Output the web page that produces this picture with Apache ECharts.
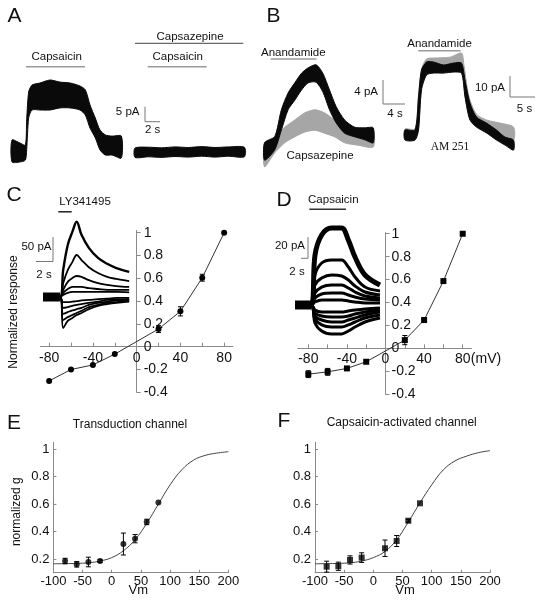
<!DOCTYPE html>
<html><head><meta charset="utf-8">
<script src="https://cdn.jsdelivr.net/npm/echarts@6/dist/echarts.min.js"></script>
<style>html,body{margin:0;padding:0;background:#fff}#c{width:542px;height:600px}</style>
</head><body><div id="c"></div><script>
const FONT = "'Liberation Sans', Arial, Helvetica, sans-serif";
const SERIF = "'Liberation Serif', 'Times New Roman', serif";

// ---------- Panel A: current traces (time s, current pA re baseline; upper/lower noise envelope) ----------
const aLeftT  = [0, 1.2, 2.0, 2.2, 2.5, 3.0, 4.2, 5.7, 7.2, 8.7, 10.2, 11.0, 11.7, 12.5, 13.2, 14.0, 15.0, 16.4];
const aLeftUp = [4, 3, 2.3, 10.7, 20, 22.3, 23, 24, 23.3, 23, 22, 20.7, 15.7, 11.3, 7.3, 5.7, 5.3, 5.3];
const aLeftLo = [-3.3, -3.3, -2.7, 0.7, 11.3, 14, 14, 14, 14.7, 14.7, 14, 12.3, 8, 4.7, 0.7, -1, -1, -2];
const aRightT  = [0, 2, 4, 6, 8, 10, 12, 14, 16.4];
const aRightUp = [1.3, 1.6, 1.4, 1.7, 1.5, 1.8, 1.5, 1.7, 1.6];
const aRightLo = [-1.8, -1.6, -1.8, -1.5, -1.7, -1.4, -1.7, -1.4, -1.6];

// ---------- Panel B ----------
const bLeftBlackT  = [0.1, 1.9, 3.1, 4.3, 5.5, 6.7, 7.9, 9.3, 10.5, 11.7, 12.9, 14.4, 16.2, 18.0, 19.5];
const bLeftBlackUp = [1.2, 2.2, 6.7, 9.5, 11.2, 12.8, 13.7, 14.2, 12.8, 10.0, 7.2, 5.0, 3.8, 3.7, 3.7];
const bLeftBlackLo = [-1.7, 0, 3.3, 6.7, 8.3, 10.0, 11.2, 11.3, 9.7, 6.7, 4.5, 2.8, 2.2, 1.7, 1.2];
const bLeftGrayT  = [0.1, 1.9, 3.7, 5.5, 7.3, 9.1, 10.8, 12.6, 14.4, 16.8, 19.5];
const bLeftGrayUp = [1.2, 2.2, 3.8, 5.0, 6.2, 6.7, 6.2, 5.0, 3.8, 3.0, 2.8];
const bLeftGrayLo = [-2.8, -0.5, 1.2, 2.2, 3.0, 3.3, 2.8, 2.2, 1.2, 0.8, 0.5];
const bRightBlackT  = [0.2, 2.2, 2.9, 3.5, 4.5, 5.9, 7.9, 9.9, 11.5, 12.2, 13.2, 14.5, 16.5, 18.5, 20.2, 21.9];
const bRightBlackUp = [2.9, 2.9, 22, 37.6, 42.2, 42.2, 40.5, 41.6, 41.6, 31.8, 18.5, 10.4, 6.9, 2.9, -1.2, -2.9];
const bRightBlackLo = [-2.9, -2.9, 2.9, 26, 34.7, 35.8, 35.8, 36.4, 35.8, 22, 8.7, 4.6, 1.2, -2.9, -5.8, -8.7];
const bRightGrayT  = [0.2, 2.2, 2.9, 3.5, 4.5, 5.9, 9.2, 11.5, 12.0, 13.0, 14.5, 16.5, 19.2, 21.9];
const bRightGrayUp = [3.5, 3.5, 23, 38, 44, 44.5, 45, 47.4, 40, 22, 12, 8.7, 6.9, 4.6];
const bRightGrayLo = [-2.3, -2.3, 4, 27, 35, 37.6, 38.7, 40.5, 28, 10, 5, 2.9, -1.2, -2.9];

// ---------- Panel C inset: LY341495 family of traces (s, pA) ----------
const cTraceT = [0, 1.85, 2.2, 2.7, 3.2, 3.67, 4.2, 5, 6, 7, 8, 9.4];
const cTr1  = [0, 0, 64, 124, 155, 179, 148, 117, 93, 79, 69, 60];
const cTr2  = [0, 0, 33, 64, 83, 100, 88, 71, 57, 48, 43, 38];
const cTr3  = [0, 0, 17, 36, 45, 50, 48, 40, 33, 29, 26, 24];
const cTr4  = [0, 0, 10, 19, 24, 24, 24, 21, 19, 17, 17, 17];
const cTr5  = [0, 0, 5, 10, 12, 12, 12, 12, 12, 12, 12, 11];
const cTr6  = [0, 0, -12, -12, -11, -10, -8, -7, -5, -4, -2, -2];
const cTr7  = [0, 0, -26, -24, -21, -19, -17, -14, -11, -7, -6, -5];
const cTr8  = [0, 0, -40, -36, -32, -29, -26, -19, -14, -11, -8, -7];
const cTr9  = [0, 0, -55, -48, -43, -38, -33, -24, -19, -14, -12, -10];
const cTr10 = [0, 0, -74, -57, -50, -43, -38, -29, -21, -17, -14, -11];
const cBaseT = [0, 1.85];
const cBase  = [0, 0];

// ---------- Panel D inset: capsaicin family of traces (s, pA) ----------
const dTraceT = [0, 4.8, 6, 8, 11, 14, 16, 18, 21, 25.5];
const dTr1  = [0, 0, 47.6, 66.7, 73.3, 73.3, 61.9, 45.7, 28.6, 19];
const dTr2  = [0, 0, 28.6, 40, 42.9, 42.9, 36.2, 26.7, 17.1, 13.3];
const dTr3  = [0, 0, 19, 25.7, 28.6, 27.6, 23.8, 18.1, 12.4, 9.5];
const dTr4  = [0, 0, 11.4, 17.1, 19, 19, 16.2, 12.4, 8.6, 6.7];
const dTr5  = [0, 0, 6.7, 10.5, 11.4, 11.4, 9.5, 7.6, 5.7, 4.8];
const dTr6  = [0, 0, 2.9, 4.8, 4.8, 4.8, 3.8, 2.9, 1.9, 1.9];
const dTr7  = [0, 0, -4.8, -6.7, -6.7, -6.7, -5.7, -4.8, -3.8, -2.9];
const dTr8  = [0, 0, -7.6, -10.5, -11.4, -11.4, -10.5, -8.6, -6.7, -4.8];
const dTr9  = [0, 0, -10.5, -14.3, -16.2, -16.2, -14.3, -12.4, -9.5, -6.7];
const dTr10 = [0, 0, -13.3, -19, -21, -21, -19, -16.2, -12.4, -9.5];
const dTr11 = [0, 0, -17.1, -24.8, -27.6, -27.6, -24.8, -21, -16.2, -12.4];
const dBaseT = [0, 4.8];
const dBase  = [0, 0];

// ---------- Panels C & D: I-V relations ----------
const ivV   = [-80, -60, -40, -20, 20, 40, 60, 80];
const cResp = [-0.30, -0.20, -0.16, -0.065, 0.155, 0.31, 0.605, 1.0];
const cErr  = [0, 0, 0, 0, 0.03, 0.04, 0.03, 0];
const dResp = [-0.225, -0.205, -0.175, -0.117, 0.072, 0.247, 0.587, 1.0];
const dErr  = [0.03, 0.03, 0, 0, 0.04, 0.02, 0, 0];
const ivXTicks  = [-80, -60, -40, -20, 0, 20, 40, 60, 80];
const ivXLabels = [-80, -40, 0, 40, 80];
const ivYTicks  = [-0.4, -0.2, 0, 0.2, 0.4, 0.6, 0.8, 1];

// ---------- Panels E & F: normalized conductance ----------
const gV   = [-80, -60, -40, -20, 20, 40, 60, 80];
const eG   = [0.185, 0.161, 0.178, 0.185, 0.309, 0.348, 0.470, 0.611];
const eErr = [0.02, 0.02, 0.035, 0.01, 0.08, 0.03, 0.02, 0];
const fG   = [0.144, 0.147, 0.193, 0.21, 0.278, 0.331, 0.479, 0.606];
const fErr = [0.04, 0.03, 0.03, 0.035, 0.06, 0.04, 0.01, 0];
const fitV = [-100, -80, -60, -40, -20, 0, 20, 40, 60, 80, 100, 120, 140, 160, 180, 200];
const eFit = [0.165, 0.166, 0.168, 0.172, 0.185, 0.21, 0.26, 0.34, 0.46, 0.60, 0.74, 0.85, 0.92, 0.955, 0.972, 0.982];
const fFit = [0.165, 0.166, 0.168, 0.172, 0.185, 0.21, 0.255, 0.34, 0.47, 0.61, 0.74, 0.85, 0.915, 0.95, 0.975, 0.99];
const gYTicks = [0.2, 0.4, 0.6, 0.8, 1];

// ---------- helpers ----------
const pairs = (xs, ys) => xs.map((x, i) => [x, ys[i]]);
function band(gi, t, lo, up, color, z) {
  return {
    type: 'custom', xAxisIndex: gi, yAxisIndex: gi, z: z || 2, silent: true,
    data: [[t[0], lo[0]]],
    renderItem: (p, api) => {
      const pts = [];
      for (let i = 0; i < t.length; i++) pts.push(api.coord([t[i], up[i]]));
      for (let i = t.length - 1; i >= 0; i--) pts.push(api.coord([t[i], lo[i]]));
      return { type: 'polygon', shape: { points: pts, smooth: 0.25 }, style: { fill: color, stroke: color, lineWidth: 1 } };
    }
  };
}
function trace(gi, t, v, w) {
  return { type: 'line', xAxisIndex: gi, yAxisIndex: gi, data: pairs(t, v), smooth: 0.35, symbol: 'none',
    lineStyle: { color: '#000', width: w }, silent: true, z: 3 };
}
function errBars(gi, xs, ys, es, cap) {
  const d = [];
  xs.forEach((x, i) => { if (es[i] > 0) d.push([x, ys[i] - es[i], ys[i] + es[i]]); });
  return {
    type: 'custom', xAxisIndex: gi, yAxisIndex: gi, z: 4, silent: true, data: d,
    renderItem: (p, api) => {
      const lo = api.coord([api.value(0), api.value(1)]);
      const hi = api.coord([api.value(0), api.value(2)]);
      const s = { stroke: '#000', lineWidth: 1 };
      return { type: 'group', children: [
        { type: 'line', shape: { x1: lo[0], y1: lo[1], x2: hi[0], y2: hi[1] }, style: s },
        { type: 'line', shape: { x1: lo[0] - cap, y1: lo[1], x2: lo[0] + cap, y2: lo[1] }, style: s },
        { type: 'line', shape: { x1: hi[0] - cap, y1: hi[1], x2: hi[0] + cap, y2: hi[1] }, style: s }
      ]};
    }
  };
}
const fmt = v => String(+(+v).toFixed(1));
const AX = '#8a8a8a';
function hiddenAxes(gi, xmin, xmax, ymin, ymax) {
  return [
    { gridIndex: gi, type: 'value', min: xmin, max: xmax, show: false },
    { gridIndex: gi, type: 'value', min: ymin, max: ymax, show: false }
  ];
}
function txt(x, y, s, o) {
  o = o || {};
  const f = `${o.size || 11.5}px ${o.family || FONT}`;
  return { type: 'text', x: x, y: y, rotation: o.rot || 0, silent: true, z: 10,
    style: { text: s, font: f, fill: o.color || '#111', align: o.align || 'center', verticalAlign: 'middle',
             textAlign: o.align || 'center', textVerticalAlign: 'middle' } };
}
function pl(points, color, w) {
  return { type: 'polyline', silent: true, z: 10, shape: { points: points }, style: { stroke: color, lineWidth: w || 1, fill: null } };
}

// ---------- grids ----------
const G = (left, top, width, height) => ({ left, top, width, height, containLabel: false, outerBoundsMode: 'none' });
const grids = [
  G(12, 68, 110, 102),        // 0 A left
  G(135, 68, 110, 102),       // 1 A right
  G(264, 54, 112, 117),       // 2 B left
  G(404, 52, 112, 103.8),     // 3 B right
  G(43, 215.1, 87.1, 119.7),  // 4 C inset
  G(295, 212.6, 85, 129.15),  // 5 D inset
  G(40.4, 230.4, 192.5, 161.9), // 6 C main
  G(297.7, 232.6, 173.7, 161.6), // 7 D main
  G(53.4, 442.4, 175, 130.3), // 8 E
  G(315, 442.4, 175, 130.3)   // 9 F
];

const xAxes = [], yAxes = [];
[[0, 0, 16.5, -6, 28], [1, 0, 16.5, -6, 28], [2, 0, 20, -3.5, 16], [3, 0, 22.4, -12, 48],
 [4, 0, 9.5, -90, 195], [5, 0, 25.5, -35, 88]].forEach(a => {
  const h = hiddenAxes(a[0], a[1], a[2], a[3], a[4]); xAxes.push(h[0]); yAxes.push(h[1]);
});
// crossing axes at the origin: place each axis through the zero of the other with an offset
function ivAxes(gi, xmin, xmax, ymin, ymax, lblMargin) {
  const g = grids[gi];
  const xOff = -((0 - ymin) / (ymax - ymin)) * g.height;
  const yOff = -((0 - xmin) / (xmax - xmin)) * g.width;
  xAxes.push({ gridIndex: gi, type: 'value', min: xmin, max: xmax, position: 'bottom', offset: xOff,
    axisLine: { onZero: false, lineStyle: { color: AX, width: 1 } },
    axisTick: { inside: true, length: 4, customValues: ivXTicks, lineStyle: { color: AX } },
    axisLabel: { customValues: ivXLabels, fontSize: 14, color: '#111', fontFamily: FONT, margin: 4, hideOverlap: false },
    splitLine: { show: false } });
  yAxes.push({ gridIndex: gi, type: 'value', min: ymin, max: ymax, position: 'left', offset: yOff,
    axisLine: { onZero: false, lineStyle: { color: AX, width: 1 } },
    axisTick: { inside: true, length: 4, customValues: ivYTicks, lineStyle: { color: AX } },
    axisLabel: { inside: true, customValues: ivYTicks, formatter: fmt, fontSize: 14, color: '#111', fontFamily: FONT, margin: lblMargin, hideOverlap: false },
    splitLine: { show: false } });
}
ivAxes(6, -88, 88, -0.4, 1.02, 7);
ivAxes(7, -91, 89, -0.4, 1.01, 6);
function gAxes(gi) {
  xAxes.push({ gridIndex: gi, type: 'value', min: -100, max: 200, interval: 50,
    axisLine: { onZero: false, lineStyle: { color: AX } },
    axisTick: { inside: true, length: 3, lineStyle: { color: AX } },
    axisLabel: { fontSize: 13, color: '#111', fontFamily: FONT, margin: 2 },
    splitLine: { show: false } });
  yAxes.push({ gridIndex: gi, type: 'value', min: 0.1, max: 1.05,
    axisLine: { onZero: false, lineStyle: { color: AX } },
    axisTick: { inside: true, length: 3, customValues: gYTicks, lineStyle: { color: AX } },
    axisLabel: { customValues: gYTicks, formatter: fmt, fontSize: 13, color: '#111', fontFamily: FONT, margin: 4 },
    splitLine: { show: false } });
}
gAxes(8); gAxes(9);

// ---------- series ----------
const series = [
  band(0, aLeftT, aLeftLo, aLeftUp, '#0a0a0a'),
  band(1, aRightT, aRightLo, aRightUp, '#0a0a0a'),
  band(2, bLeftGrayT, bLeftGrayLo, bLeftGrayUp, '#a6a6a6', 2),
  band(2, bLeftBlackT, bLeftBlackLo, bLeftBlackUp, '#0a0a0a', 3),
  band(3, bRightGrayT, bRightGrayLo, bRightGrayUp, '#a6a6a6', 2),
  band(3, bRightBlackT, bRightBlackLo, bRightBlackUp, '#0a0a0a', 3),
  { type: 'line', xAxisIndex: 4, yAxisIndex: 4, data: pairs(cBaseT, cBase), symbol: 'none', lineStyle: { color: '#000', width: 9 }, silent: true },
  { type: 'line', xAxisIndex: 5, yAxisIndex: 5, data: pairs(dBaseT, dBase), symbol: 'none', lineStyle: { color: '#000', width: 9 }, silent: true }
];
[cTr1, cTr2, cTr3, cTr4, cTr5, cTr6, cTr7, cTr8, cTr9, cTr10].forEach((v, i) => series.push(trace(4, cTraceT, v, i === 0 ? 2.4 : 1.8)));
[dTr1, dTr2, dTr3, dTr4, dTr5, dTr6, dTr7, dTr8, dTr9, dTr10, dTr11].forEach((v, i) => series.push(trace(5, dTraceT, v, i === 0 ? 5 : 3)));

series.push({ type: 'line', xAxisIndex: 6, yAxisIndex: 6, data: pairs(ivV, cResp), symbol: 'circle', symbolSize: 6,
  itemStyle: { color: '#000' }, lineStyle: { color: '#333', width: 1 }, z: 5, silent: true });
series.push(errBars(6, ivV, cResp, cErr, 2.5));
series.push({ type: 'line', xAxisIndex: 7, yAxisIndex: 7, data: pairs(ivV, dResp), symbol: 'rect', symbolSize: 6,
  itemStyle: { color: '#000' }, lineStyle: { color: '#333', width: 1 }, z: 5, silent: true });
series.push(errBars(7, ivV, dResp, dErr, 2.5));

series.push({ type: 'line', xAxisIndex: 8, yAxisIndex: 8, data: pairs(fitV, eFit), smooth: 0.4, symbol: 'none', lineStyle: { color: '#444', width: 1 }, silent: true });
series.push({ type: 'scatter', xAxisIndex: 8, yAxisIndex: 8, data: pairs(gV, eG), symbol: 'circle', symbolSize: 6, itemStyle: { color: '#000' }, z: 5, silent: true });
series.push(errBars(8, gV, eG, eErr, 2.5));
series.push({ type: 'line', xAxisIndex: 9, yAxisIndex: 9, data: pairs(fitV, fFit), smooth: 0.4, symbol: 'none', lineStyle: { color: '#444', width: 1 }, silent: true });
series.push({ type: 'scatter', xAxisIndex: 9, yAxisIndex: 9, data: pairs(gV, fG), symbol: 'rect', symbolSize: 6, itemStyle: { color: '#000' }, z: 5, silent: true });
series.push(errBars(9, gV, fG, fErr, 2.5));

// ---------- annotations ----------
const GRAY = '#9a9a9a', SB = '#777';
const graphic = [
  txt(14.5, 16, 'A', { size: 21 }), txt(273.5, 16, 'B', { size: 21 }),
  txt(14, 195, 'C', { size: 21 }), txt(284, 200, 'D', { size: 21 }),
  txt(14, 423.5, 'E', { size: 21 }), txt(284, 421.5, 'F', { size: 21 }),
  // A
  txt(56.7, 57.3, 'Capsaicin'), pl([[26, 66.7], [85, 66.7]], GRAY, 1.5),
  txt(190, 36.7, 'Capsazepine'), pl([[135, 43.3], [243.3, 43.3]], '#444', 1),
  txt(177.7, 57.3, 'Capsaicin'), pl([[147.7, 66.7], [206.7, 66.7]], GRAY, 1.5),
  txt(139.5, 112.3, '5 pA', { align: 'right' }), pl([[145, 106.7], [145, 121.7], [160, 121.7]], SB, 1),
  txt(152.7, 130, '2 s'),
  // B
  txt(293.3, 52.5, 'Anandamide'), pl([[270.7, 59], [316.5, 59]], GRAY, 1.5),
  txt(320, 156, 'Capsazepine'),
  txt(378, 92, '4 pA', { align: 'right' }), pl([[383, 80], [383, 104], [405, 104]], SB, 1),
  txt(395, 113.5, '4 s'),
  txt(439.5, 44, 'Anandamide'), pl([[418.3, 50.7], [460.5, 50.7]], GRAY, 1.5),
  txt(450, 147.3, 'AM 251', { family: SERIF }),
  txt(505, 87.5, '10 pA', { align: 'right' }), pl([[510, 76], [510, 97], [535, 97]], SB, 1),
  txt(524.5, 108.5, '5 s'),
  // C
  txt(85, 201.7, 'LY341495'), pl([[58.3, 211.8], [71.7, 211.8]], '#222', 1.5),
  txt(51.5, 246.7, '50 pA', { align: 'right' }), pl([[53, 237], [53, 261.5], [36, 261.5]], SB, 1),
  txt(44, 274.5, '2 s'),
  txt(14, 312, 'Normalized response', { size: 12, rot: Math.PI / 2 }),
  // D
  txt(333.3, 200, 'Capsaicin'), pl([[309.3, 209.3], [346, 209.3]], '#333', 1.5),
  txt(305, 246, '20 pA', { align: 'right' }), pl([[308, 237], [308, 258.3], [301, 258.3]], SB, 1),
  txt(297, 272, '2 s'),
  txt(486, 359, '(mV)', { size: 14 }),
  // E & F
  txt(130, 424.3, 'Transduction channel', { size: 12 }),
  txt(16.7, 511.7, 'normalized g', { size: 12, rot: Math.PI / 2 }),
  txt(138.3, 590.5, 'Vm', { size: 13 }),
  txt(401.7, 422.3, 'Capsaicin-activated channel', { size: 12 }),
  txt(405, 590.5, 'Vm', { size: 13 })
];

const chart = echarts.init(document.getElementById('c'), null, { renderer: 'canvas' });
chart.setOption({
  animation: false,
  backgroundColor: '#fff',
  textStyle: { fontFamily: FONT },
  grid: grids, xAxis: xAxes, yAxis: yAxes, series: series, graphic: graphic
});
</script></body></html>
